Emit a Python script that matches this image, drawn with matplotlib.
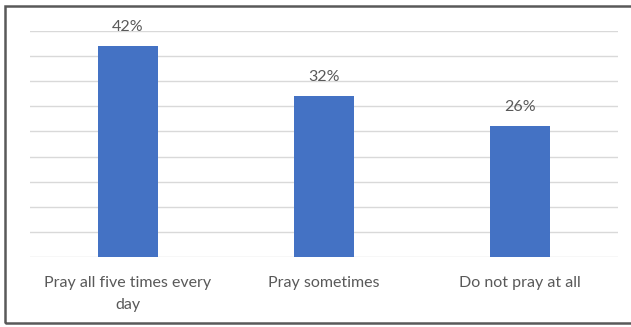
import matplotlib.pyplot as plt
from matplotlib.patches import Rectangle

categories = ['Pray all five times every\nday', 'Pray sometimes', 'Do not pray at all']
percentages = [42, 32, 26]

W, H = 631, 327
fig = plt.figure(figsize=(W / 100, H / 100), dpi=100)
plt.rcParams['font.family'] = ['Lato', 'DejaVu Sans']

# outer frame, right edge runs off the canvas
fig.patches.append(Rectangle((5 / W, 4 / H), 1.0, 1 - 10 / H, transform=fig.transFigure,
                             fill=False, edgecolor='#595959', linewidth=1.8))

ax = fig.add_axes([30 / W, 1 - 257 / H, 588 / W, 226 / H])
x = range(len(categories))
bars = ax.bar(x, percentages, width=0.31, color='#4472C4', zorder=3)

ax.set_xlim(-0.5, 2.5)
ax.set_ylim(0, 45)
ax.set_yticks(range(0, 46, 5))
ax.yaxis.grid(True, color='#d9d9d9', linewidth=1)
ax.set_axisbelow(True)
ax.tick_params(axis='y', left=False, labelleft=False)
ax.tick_params(axis='x', bottom=False, pad=10)
ax.set_xticks(list(x))
ax.set_xticklabels(categories, fontsize=11.5, color='#595959', linespacing=1.75)
for s in ax.spines.values():
    s.set_visible(False)

for b, v in zip(bars, percentages):
    ax.annotate(f'{v}%', (b.get_x() + b.get_width() / 2, v), xytext=(0, 14),
                textcoords='offset points', ha='center', va='center',
                fontsize=11.5, color='#595959')

fig.savefig('out.png', dpi=100)
